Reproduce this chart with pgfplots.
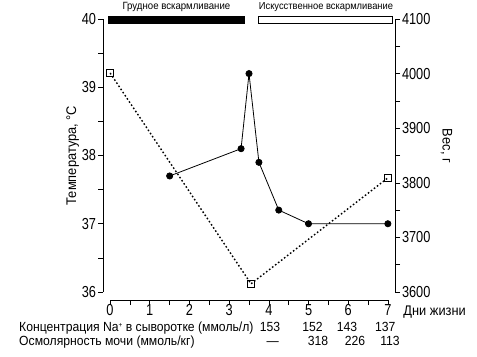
\documentclass[border=0pt]{standalone}
\usepackage{fontspec}
\setmainfont[FakeStretch=0.92]{Liberation Sans}
\newfontfamily\tickfont[FakeStretch=0.8]{Liberation Sans}
\usepackage{pgfplots}
\pgfplotsset{compat=1.18}
\begin{document}
\begin{tikzpicture}[x=1bp,y=1bp]
\useasboundingbox (0,0) rectangle (477,356);
\pgfplotsset{
  common/.style={
    scale only axis, width=292bp, height=273bp,
    xmin=-0.18, xmax=7.18,
    at={(103bp,64bp)}, anchor=south west,
    clip=false,
    tick align=outside,
    major tick length=5bp, minor tick length=5bp,
    every tick/.style={black, line width=0.6pt},
    axis line style={line width=0.7pt},
    tick label style={font=\tickfont\fontsize{16}{18}\selectfont},
    /pgf/number format/assume math mode=true,
    /pgf/number format/1000 sep={},
  }
}
% Temperature axis
\begin{axis}[common,
  axis y line*=left, axis x line=none,
  ymin=36, ymax=40,
  ytick={36,37,38,39,40}, minor ytick={36.5,37.5,38.5,39.5},
  yticklabel style={xshift=1.5bp},
  ylabel={Температура, °С},
  ylabel style={font=\fontsize{14}{16}\selectfont, at={(axis description cs:-0.07,0.5)}},
]
\addplot[black, line width=0.8pt, mark=*, mark size=3.1pt] coordinates {
  (1.5,37.7) (3.3,38.1) (3.5,39.2) (3.75,37.9) (4.25,37.2) (5,37.0) (7,37.0)
};
% feeding bars
\fill[black] (axis cs:-0.05,39.93) rectangle (axis cs:3.4,40.045);
\draw[black, line width=0.6pt, fill=white] (axis cs:3.73,39.93) rectangle (axis cs:7.1,40.045);
\node[font=\fontsize{10.5}{12}\selectfont, anchor=base] at (axis cs:1.67,40.14) {Грудное вскармливание};
\node[font=\fontsize{10.2}{12}\selectfont, anchor=base] at (axis cs:5.44,40.14) {Искусственное вскармливание};
\end{axis}
% Weight axis
\begin{axis}[common,
  axis y line*=right, axis x line=none,
  ymin=3600, ymax=4100,
  ytick={3600,3700,3800,3900,4000,4100}, minor ytick={3650,3750,3850,3950,4050},
  yticklabel style={xshift=-1.5bp},
  ylabel={Вес, г},
  ylabel style={font=\fontsize{14}{16}\selectfont, rotate=180, at={(axis description cs:1.145,0.535)}},
]
\addplot[black, line width=1.4pt, dash pattern=on 1.6pt off 2.2pt, mark=square, mark size=3.4pt, mark options={solid, fill=white, line width=0.6pt}] coordinates {
  (0,4001) (3.55,3615) (7,3809)
};
\end{axis}
% Day axis
\begin{axis}[
  scale only axis, width=278bp, height=10bp,
  at={(110bp,56bp)}, anchor=south west,
  xmin=0, xmax=7, ymin=0, ymax=1,
  axis x line*=bottom, axis y line=none,
  clip=false,
  tick align=outside,
  major tick length=5bp, minor tick length=5bp,
  every tick/.style={black, line width=0.6pt},
  axis line style={line width=0.7pt},
  xtick={0,1,2,3,4,5,6,7}, minor xtick={0.5,1.5,2.5,3.5,4.5,5.5,6.5},
  tick label style={font=\tickfont\fontsize{16}{18}\selectfont, inner sep=1bp},
  xticklabel style={yshift=2bp},
  /pgf/number format/assume math mode=true,
]
\addplot[draw=none] coordinates {(0,0) (7,0)};
\node[font=\fontsize{14}{16}\selectfont, anchor=west] at (axis cs:7.3,-1.25) {Дни жизни};
\begin{scope}[every node/.style={font=\fontsize{13.3}{15}\selectfont, anchor=base, inner sep=1bp}]
\node[anchor=base west] at (-92bp,-31bp) {Концентрация Na{\fontsize{7}{8}\selectfont\raisebox{4bp}{+}} в сыворотке (ммоль/л)};
\node at (axis cs:4.03,-3.1) {153};
\node at (axis cs:5.1,-3.1) {152};
\node at (axis cs:5.97,-3.1) {143};
\node at (axis cs:6.93,-3.1) {137};
\node[anchor=base west] at (-92bp,-45bp) {Осмолярность мочи (ммоль/кг)};
\node at (axis cs:4.1,-4.5) {—};
\node at (axis cs:5.24,-4.5) {318};
\node at (axis cs:6.17,-4.5) {226};
\node at (axis cs:7.05,-4.5) {113};
\end{scope}
\end{axis}
\end{tikzpicture}
\end{document}
